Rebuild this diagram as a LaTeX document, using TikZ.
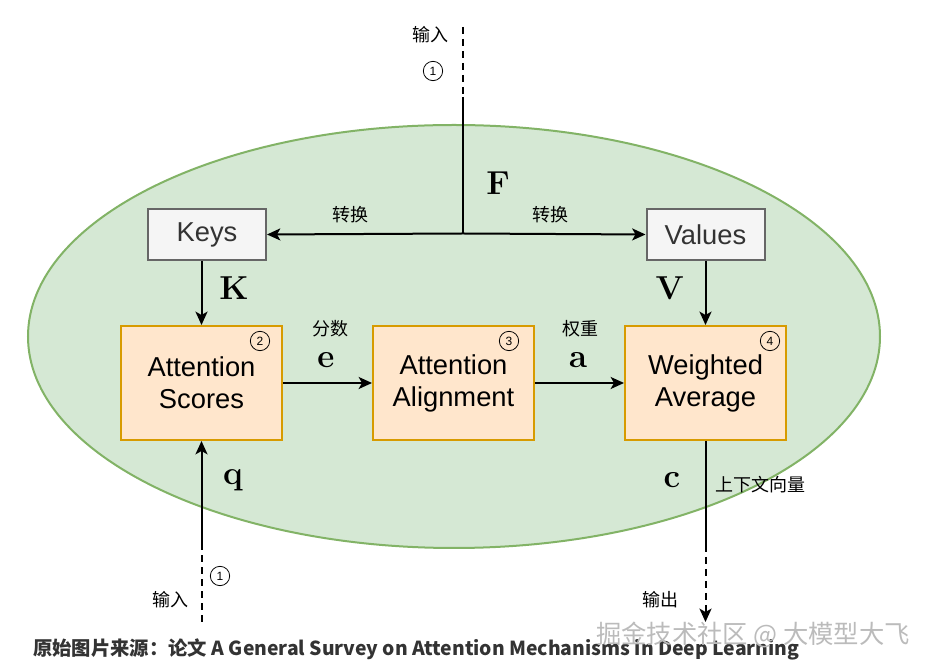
\documentclass[tikz,border=0pt]{standalone}
\usepackage[no-math]{fontspec}
\setmainfont{Liberation Sans}
\newfontfamily\cjk{Noto Sans CJK SC}
\usetikzlibrary{arrows.meta}
\definecolor{ATGreenFill}{HTML}{D5E8D4}
\definecolor{ATGreenLine}{HTML}{82B366}
\definecolor{ATGreyFill}{HTML}{F5F5F5}
\definecolor{ATGreyLine}{HTML}{666666}
\definecolor{ATOrangeFill}{HTML}{FFE6CC}
\definecolor{ATOrangeLine}{HTML}{D79B00}
\definecolor{ATText}{HTML}{333333}
\definecolor{ATMark}{HTML}{BBBBBB}

\begin{document}
\begin{tikzpicture}[x=0.75pt,y=0.75pt,
  greybox/.style={draw=ATGreyLine,fill=ATGreyFill,line width=1.5pt,text=ATText,
    minimum width=88.5pt,minimum height=38.25pt,font=\fontsize{20.5}{24}\selectfont},
  stepbox/.style={draw=ATOrangeLine,fill=ATOrangeFill,line width=1.5pt,align=center,
    minimum width=120.75pt,minimum height=85.5pt,font=\fontsize{20.5}{24}\selectfont},
  flow/.style={line width=1.5pt,-{Stealth[length=10pt,width=9pt,inset=2.5pt]}},
  dashline/.style={line width=1.5pt,dash pattern=on 5.5pt off 3.5pt},
  vec/.style={font=\fontsize{24}{28}\selectfont},
  cnlabel/.style={font=\cjk\fontsize{13.5}{16}\selectfont},
  stepno/.style={circle,draw,line width=0.6pt,inner sep=0pt,minimum size=14.5pt,
    font=\fontsize{9}{10}\selectfont}]
\path[use as bounding box] (0,0) rectangle (926,671);
% background ellipse
\draw[ATGreenLine,fill=ATGreenFill,line width=1.5pt] (454,334.5) ellipse [x radius=426, y radius=211.5];
% boxes
\node[greybox] (keys) at (207,436.5) {Keys};
\node[greybox] (values) at (705.5,436.5) {Values};
\node[stepbox] (scores) at (201.5,288) {Attention\\Scores};
\node[stepbox] (align) at (453.5,288) {Attention\\Alignment};
\node[stepbox] (wavg) at (705.5,288) {Weighted\\Average};
\node[stepno] (no2) at (260,330) {2};
\node[stepno] (no3) at (509,330) {3};
\node[stepno] (no4) at (770,330) {4};
% input F
\coordinate (fin) at (463,644);
\coordinate (fmid) at (463,574);
\coordinate (fsplit) at (463,437.5);
\draw[dashline] (fin) -- (fmid);
\draw[line width=1.5pt] (fmid) -- (fsplit);
\draw[flow] (fsplit) -- (keys.east);
\draw[flow] (fsplit) -- (values.west);
\node[cnlabel] (inF) at (430,636) {输入};
\node[stepno] (no1a) at (433,600) {1};
\node[vec] (labF) at (498,488) {$\mathbf{F}$};
\node[cnlabel] (convK) at (350,456) {转换};
\node[cnlabel] (convV) at (550,456) {转换};
% keys and values
\draw[flow] (keys.south -| scores.north) -- (scores.north);
\draw[flow] (values.south) -- (wavg.north);
\node[vec] (labK) at (234,383) {$\mathbf{K}$};
\node[vec] (labV) at (670,383) {$\mathbf{V}$};
% scores, weights
\draw[flow] (scores.east) -- (align.west);
\draw[flow] (align.east) -- (wavg.west);
\node[cnlabel] (score) at (330,342) {分数};
\node[vec] (labe) at (326,311) {$\mathbf{e}$};
\node[cnlabel] (weight) at (580,342) {权重};
\node[vec] (laba) at (578,311) {$\mathbf{a}$};
% query input
\coordinate (qin) at (201.5,49);
\coordinate (qmid) at (201.5,126);
\draw[dashline] (qin) -- (qmid);
\draw[flow] (qmid) -- (scores.south);
\node[vec] (labq) at (233,191) {$\mathbf{q}$};
\node[stepno] (no1b) at (220,95) {1};
\node[cnlabel] (inq) at (170,71) {输入};
% context output
\coordinate (cmid) at (705.5,126);
\coordinate (cout) at (705.5,49);
\draw[line width=1.5pt] (wavg.south) -- (cmid);
\draw[dashline,-{Stealth[length=10pt,width=9pt,inset=2.5pt]}] (cmid) -- (cout);
\node[vec] (labc) at (672,191) {$\mathbf{c}$};
\node[cnlabel] (ctx) at (760,186) {上下文向量};
\node[cnlabel] (outc) at (660,71) {输出};
% caption
\node[anchor=west,text=ATText,inner sep=0pt,font=\cjk\bfseries\fontsize{14.5}{17}\selectfont] (caption) at (33,22)
  {原始图片来源：论文 A General Survey on Attention Mechanisms in Deep Learning};
\node[text=ATMark,font=\cjk\fontsize{19}{22}\selectfont] (mark) at (753,36) {掘金技术社区 @ 大模型大飞};
\end{tikzpicture}
\end{document}
